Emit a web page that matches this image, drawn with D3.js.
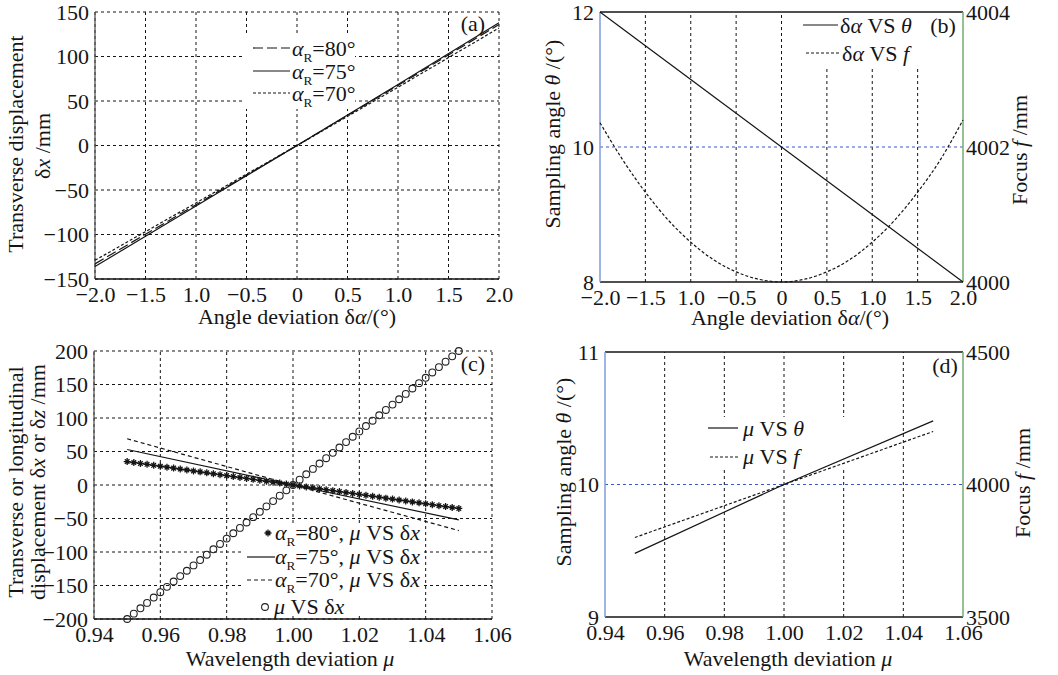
<!DOCTYPE html>
<html>
<head>
<meta charset="utf-8">
<script src="https://cdn.jsdelivr.net/npm/d3@7"></script>
<style>
  body { margin: 0; background: #fff; }
  svg { display: block; }
</style>
</head>
<body>
<div id="chart"></div>
<script>
// ---- data ----
// (a) transverse displacement vs angle deviation
const deltaAlpha = [-2, -1, 0, 1, 2];
const dxR80a = [-133, -66.5, 0, 67.5, 136];
const dxR75a = [-136, -68, 0, 68.5, 138];
const dxR70a = [-129, -64.5, 0, 65.5, 132];

// (b) sampling angle and focus vs angle deviation
const thetaB = [12, 11, 10, 9, 8];
const deltaAlphaF = [-2, -1.75, -1.5, -1.25, -1, -0.75, -0.5, -0.25, 0, 0.25, 0.5, 0.75, 1, 1.25, 1.5, 1.75, 2];
const focusB = [4002.36, 4001.81, 4001.33, 4000.92, 4000.59, 4000.33, 4000.15, 4000.04, 4000.0,
  4000.04, 4000.15, 4000.33, 4000.59, 4000.92, 4001.33, 4001.81, 4002.4];

// (c) displacement vs wavelength deviation
const muC = [0.950, 0.952, 0.954, 0.956, 0.958, 0.960, 0.962, 0.964, 0.966, 0.968, 0.970, 0.972, 0.974,
  0.976, 0.978, 0.980, 0.982, 0.984, 0.986, 0.988, 0.990, 0.992, 0.994, 0.996, 0.998, 1.000, 1.002,
  1.004, 1.006, 1.008, 1.010, 1.012, 1.014, 1.016, 1.018, 1.020, 1.022, 1.024, 1.026, 1.028, 1.030,
  1.032, 1.034, 1.036, 1.038, 1.040, 1.042, 1.044, 1.046, 1.048, 1.050];
const dxR80c = [35, 33.6, 32.2, 30.8, 29.4, 28, 26.6, 25.2, 23.8, 22.4, 21, 19.6, 18.2, 16.8, 15.4, 14,
  12.6, 11.2, 9.8, 8.4, 7, 5.6, 4.2, 2.8, 1.4, 0, -1.4, -2.8, -4.2, -5.6, -7, -8.4, -9.8, -11.2, -12.6,
  -14, -15.4, -16.8, -18.2, -19.6, -21, -22.4, -23.8, -25.2, -26.6, -28, -29.4, -30.8, -32.2, -33.6, -35];
const dzC = [-200, -192, -184, -176, -168, -160, -152, -144, -136, -128, -120, -112, -104, -96, -88, -80,
  -72, -64, -56, -48, -40, -32, -24, -16, -8, 0, 8, 16, 24, 32, 40, 48, 56, 64, 72, 80, 88, 96, 104, 112,
  120, 128, 136, 144, 152, 160, 168, 176, 184, 192, 200];
const muLine = [0.95, 1.0, 1.05];
const dxR75c = [53, 0, -52];
const dxR70c = [69, 0, -68];

// (d) sampling angle and focus vs wavelength deviation
const muD = [0.95, 1.0, 1.05];
const thetaD = [9.48, 10.0, 10.48];
const focusD = [3800, 4000, 4200];

// tick labels
const angleTicks = [-2, -1.5, -1, -0.5, 0, 0.5, 1, 1.5, 2];
const angleLabels = ['−2.0', '−1.5', '1.0', '−0.5', '0', '0.5', '1.0', '1.5', '2.0'];
const dxTicksA = [-150, -100, -50, 0, 50, 100, 150];
const dxLabelsA = ['−150', '−100', '−50', '0', '50', '100', '150'];
const dxTicksC = [-200, -150, -100, -50, 0, 50, 100, 150, 200];
const dxLabelsC = ['−200', '−150', '−100', '−50', '0', '50', '100', '150', '200'];
const muTicks = [0.94, 0.96, 0.98, 1.0, 1.02, 1.04, 1.06];
const muLabels = ['0.94', '0.96', '0.98', '1.00', '1.02', '1.04', '1.06'];

const FONT = "'Liberation Serif', 'Times New Roman', serif";
const FS = 22;
const INK = '#151515';
const BLUE_AXIS = '#7f9ddc';
const GREEN_AXIS = '#72ad72';
const BLUE_GRID = '#3a58c8';

const svg = d3.select('#chart').append('svg')
  .attr('width', 1058).attr('height', 675)
  .style('font-family', FONT);
svg.append('rect').attr('width', 1058).attr('height', 675).attr('fill', '#fff');

// text made of parts: {t, i (italic), sub}
function richText(g, x, y, parts, opts = {}) {
  const fs = opts.fs || FS;
  const t = g.append('text')
    .attr('x', x).attr('y', y)
    .attr('font-size', fs)
    .attr('fill', INK)
    .attr('text-anchor', opts.anchor || 'start')
    .attr('dy', '0.35em');
  if (opts.rotate) {
    t.attr('x', 0).attr('y', 0).attr('transform', `translate(${x},${y}) rotate(-90)`);
  }
  let inSub = false;
  parts.forEach((p) => {
    const ts = t.append('tspan').text(p.t);
    if (p.i) ts.attr('font-style', 'italic');
    if (p.sub) {
      ts.attr('font-size', fs * 0.6).attr('dy', fs * 0.3);
      inSub = true;
    } else if (inSub) {
      ts.attr('dy', -fs * 0.3);
      inSub = false;
    }
  });
  return t;
}

function gridLines(g, x, y, xs, ys, color) {
  g.selectAll(null).data(xs).enter().append('line')
    .attr('x1', (d) => x(d)).attr('x2', (d) => x(d))
    .attr('y1', y.range()[0]).attr('y2', y.range()[1])
    .attr('stroke', INK).attr('stroke-width', 1).attr('stroke-dasharray', '3,3');
  g.selectAll(null).data(ys).enter().append('line')
    .attr('x1', x.range()[0]).attr('x2', x.range()[1])
    .attr('y1', (d) => y(d)).attr('y2', (d) => y(d))
    .attr('stroke', color || INK).attr('stroke-width', 1).attr('stroke-dasharray', '3,3');
}

function bottomAxis(g, x, y0, ticks, labels) {
  g.append('g')
    .attr('transform', `translate(0,${y0})`)
    .call(d3.axisBottom(x).tickValues(ticks).tickFormat((d, i) => labels[i]).tickSize(0).tickPadding(7))
    .call((a) => a.select('.domain').remove())
    .selectAll('text').attr('font-size', FS).attr('font-family', FONT).attr('fill', INK);
}

function leftAxis(g, y, x0, ticks, labels) {
  g.append('g')
    .attr('transform', `translate(${x0},0)`)
    .call(d3.axisLeft(y).tickValues(ticks).tickFormat((d, i) => labels[i]).tickSize(0).tickPadding(6))
    .call((a) => a.select('.domain').remove())
    .selectAll('text').attr('font-size', FS).attr('font-family', FONT).attr('fill', INK);
}

function rightAxis(g, y, x1, ticks) {
  g.append('g')
    .attr('transform', `translate(${x1},0)`)
    .call(d3.axisRight(y).tickValues(ticks).tickFormat(d3.format('d')).tickSize(0).tickPadding(3))
    .call((a) => a.select('.domain').remove())
    .selectAll('text').attr('font-size', FS).attr('font-family', FONT).attr('fill', INK);
}

function seriesLine(g, x, y, xs, ys, dash, curve) {
  const line = d3.line().x((d) => x(d[0])).y((d) => y(d[1])).curve(curve || d3.curveLinear);
  g.append('path')
    .datum(xs.map((v, i) => [v, ys[i]]))
    .attr('d', line)
    .attr('fill', 'none')
    .attr('stroke', INK)
    .attr('stroke-width', 1.2)
    .attr('stroke-dasharray', dash || null);
}

function legendSample(g, x1, x2, y, dash) {
  g.append('line').attr('x1', x1).attr('x2', x2).attr('y1', y).attr('y2', y)
    .attr('stroke', INK).attr('stroke-width', 1.2).attr('stroke-dasharray', dash || null);
}

const STAR = 'M-3.5,0H3.5M0,-3.5V3.5M-2.3,-2.3L2.3,2.3M-2.3,2.3L2.3,-2.3';
const alpha = (deg) => [{ t: 'α', i: true }, { t: 'R', sub: true }, { t: `=${deg}°` }];
const muVSdx = [{ t: ', ' }, { t: 'μ', i: true }, { t: ' VS δ' }, { t: 'x', i: true }];

// ================= (a) =================
{
  const g = svg.append('g');
  const x = d3.scaleLinear().domain([-2, 2]).range([95, 499]);
  const y = d3.scaleLinear().domain([-150, 150]).range([279, 12]);
  gridLines(g, x, y, angleTicks, dxTicksA);
  g.append('rect').attr('x', 243).attr('y', 33).attr('width', 112).attr('height', 76).attr('fill', '#fff');
  g.append('line').attr('x1', 95).attr('x2', 95).attr('y1', 12).attr('y2', 279).attr('stroke', '#555').attr('stroke-width', 1.3);
  g.append('line').attr('x1', 95).attr('x2', 499).attr('y1', 279).attr('y2', 279).attr('stroke', INK).attr('stroke-width', 1.3);
  seriesLine(g, x, y, deltaAlpha, dxR70a, '3,2');
  seriesLine(g, x, y, deltaAlpha, dxR80a, '10,4');
  seriesLine(g, x, y, deltaAlpha, dxR75a);
  bottomAxis(g, x, 279, angleTicks, angleLabels);
  leftAxis(g, y, 95, dxTicksA, dxLabelsA);

  legendSample(g, 253, 290, 48, '10,4');
  legendSample(g, 253, 290, 71);
  legendSample(g, 253, 290, 93, '3,2');
  richText(g, 292, 48, alpha(80));
  richText(g, 292, 71, alpha(75));
  richText(g, 292, 93, alpha(70));
  richText(g, 473, 23, [{ t: '(a)' }], { anchor: 'middle' });

  richText(g, 297, 316, [{ t: 'Angle deviation δ' }, { t: 'α', i: true }, { t: '/(°)' }], { anchor: 'middle' });
  richText(g, 15, 144, [{ t: 'Transverse displacement' }], { anchor: 'middle', rotate: true });
  richText(g, 42, 146, [{ t: 'δ' }, { t: 'x', i: true }, { t: ' /mm' }], { anchor: 'middle', rotate: true });
}

// ================= (b) =================
{
  const g = svg.append('g');
  const x = d3.scaleLinear().domain([-2, 2]).range([600, 963]);
  const y = d3.scaleLinear().domain([8, 12]).range([282, 12]);
  const yf = d3.scaleLinear().domain([4000, 4004]).range([282, 12]);
  gridLines(g, x, y, angleTicks.slice(1, -1), [10], BLUE_GRID);
  g.append('rect').attr('x', 795).attr('y', 13).attr('width', 166).attr('height', 55).attr('fill', '#fff');
  g.append('line').attr('x1', 600).attr('x2', 963).attr('y1', 12).attr('y2', 12).attr('stroke', INK).attr('stroke-width', 1.3);
  g.append('line').attr('x1', 600).attr('x2', 963).attr('y1', 282).attr('y2', 282).attr('stroke', INK).attr('stroke-width', 1.3);
  g.append('line').attr('x1', 600).attr('x2', 600).attr('y1', 12).attr('y2', 282).attr('stroke', BLUE_AXIS).attr('stroke-width', 1.5);
  g.append('line').attr('x1', 963).attr('x2', 963).attr('y1', 12).attr('y2', 282).attr('stroke', GREEN_AXIS).attr('stroke-width', 1.5);
  seriesLine(g, x, y, deltaAlpha, thetaB);
  seriesLine(g, x, yf, deltaAlphaF, focusB, '3,2', d3.curveMonotoneX);
  bottomAxis(g, x, 282, angleTicks, angleLabels);
  leftAxis(g, y, 600, [8, 10, 12], ['8', '10', '12']);
  rightAxis(g, yf, 963, [4000, 4002, 4004]);

  legendSample(g, 803, 838, 25);
  legendSample(g, 806, 840, 53, '3,2');
  richText(g, 840, 25, [{ t: 'δ' }, { t: 'α', i: true }, { t: ' VS ' }, { t: 'θ', i: true }]);
  richText(g, 842, 53, [{ t: 'δ' }, { t: 'α', i: true }, { t: ' VS ' }, { t: 'f', i: true }]);
  richText(g, 943, 25, [{ t: '(b)' }], { anchor: 'middle' });

  richText(g, 790, 317, [{ t: 'Angle deviation δ' }, { t: 'α', i: true }, { t: '/(°)' }], { anchor: 'middle' });
  richText(g, 552, 134, [{ t: 'Sampling angle ' }, { t: 'θ', i: true }, { t: ' /(°)' }], { anchor: 'middle', rotate: true });
  richText(g, 1019, 150, [{ t: 'Focus ' }, { t: 'f', i: true }, { t: ' /mm' }], { anchor: 'middle', rotate: true });
}

// ================= (c) =================
{
  const g = svg.append('g');
  const x = d3.scaleLinear().domain([0.94, 1.06]).range([94, 492]);
  const y = d3.scaleLinear().domain([-200, 200]).range([619, 351]);
  gridLines(g, x, y, muTicks, dxTicksC);
  g.append('rect').attr('x', 243).attr('y', 526).attr('width', 180).attr('height', 88).attr('fill', '#fff');
  g.append('line').attr('x1', 94).attr('x2', 94).attr('y1', 351).attr('y2', 619).attr('stroke', '#555').attr('stroke-width', 1.3);
  g.append('line').attr('x1', 94).attr('x2', 492).attr('y1', 619).attr('y2', 619).attr('stroke', INK).attr('stroke-width', 1.3);

  seriesLine(g, x, y, muLine, dxR70c, '4,3');
  seriesLine(g, x, y, muLine, dxR75c);
  seriesLine(g, x, y, muC, dxR80c);
  g.selectAll('.star').data(muC).enter().append('path')
    .attr('class', 'star')
    .attr('transform', (d, i) => `translate(${x(d)},${y(dxR80c[i])})`)
    .attr('d', STAR)
    .attr('stroke', INK).attr('stroke-width', 1.3);
  g.selectAll('.ring').data(muC).enter().append('circle')
    .attr('class', 'ring')
    .attr('cx', (d) => x(d))
    .attr('cy', (d, i) => y(dzC[i]))
    .attr('r', 3.4)
    .attr('fill', 'none').attr('stroke', '#222').attr('stroke-width', 1.1);

  bottomAxis(g, x, 619, muTicks, muLabels);
  leftAxis(g, y, 94, dxTicksC, dxLabelsC);

  g.append('path').attr('transform', 'translate(268,533)').attr('d', STAR)
    .attr('stroke', INK).attr('stroke-width', 1.3);
  legendSample(g, 247, 275, 557);
  legendSample(g, 247, 275, 580, '4,3');
  g.append('circle').attr('cx', 265).attr('cy', 607).attr('r', 3.4).attr('fill', 'none').attr('stroke', '#222').attr('stroke-width', 1.1);
  richText(g, 275, 532, alpha(80).concat(muVSdx));
  richText(g, 275, 556, alpha(75).concat(muVSdx));
  richText(g, 275, 579, alpha(70).concat(muVSdx));
  richText(g, 274, 606, [{ t: 'μ', i: true }, { t: ' VS δ' }, { t: 'x', i: true }]);
  richText(g, 473, 363, [{ t: '(c)' }], { anchor: 'middle' });

  richText(g, 290, 658, [{ t: 'Wavelength deviation ' }, { t: 'μ', i: true }], { anchor: 'middle' });
  richText(g, 15, 482, [{ t: 'Transverse or longitudinal' }], { anchor: 'middle', rotate: true });
  richText(g, 37, 482, [{ t: 'displacement δ' }, { t: 'x', i: true }, { t: ' or δ' }, { t: 'z', i: true }, { t: ' /mm' }], { anchor: 'middle', rotate: true });
}

// ================= (d) =================
{
  const g = svg.append('g');
  const x = d3.scaleLinear().domain([0.94, 1.06]).range([605, 963]);
  const y = d3.scaleLinear().domain([9, 11]).range([617, 352]);
  const yf = d3.scaleLinear().domain([3500, 4500]).range([617, 352]);
  gridLines(g, x, y, muTicks.slice(1, -1), [10], BLUE_GRID);
  g.append('rect').attr('x', 700).attr('y', 417).attr('width', 150).attr('height', 53).attr('fill', '#fff');
  g.append('line').attr('x1', 605).attr('x2', 963).attr('y1', 352).attr('y2', 352).attr('stroke', INK).attr('stroke-width', 1.3);
  g.append('line').attr('x1', 605).attr('x2', 963).attr('y1', 617).attr('y2', 617).attr('stroke', INK).attr('stroke-width', 1.3);
  g.append('line').attr('x1', 605).attr('x2', 605).attr('y1', 352).attr('y2', 617).attr('stroke', BLUE_AXIS).attr('stroke-width', 1.5);
  g.append('line').attr('x1', 963).attr('x2', 963).attr('y1', 352).attr('y2', 617).attr('stroke', GREEN_AXIS).attr('stroke-width', 1.5);
  seriesLine(g, x, y, muD, thetaD);
  seriesLine(g, x, yf, muD, focusD, '3,2');
  bottomAxis(g, x, 617, muTicks, muLabels);
  leftAxis(g, y, 605, [9, 10, 11], ['9', '10', '11']);
  rightAxis(g, yf, 963, [3500, 4000, 4500]);

  legendSample(g, 708, 738, 428);
  legendSample(g, 710, 738, 457, '3,2');
  richText(g, 743, 428, [{ t: 'μ', i: true }, { t: ' VS ' }, { t: 'θ', i: true }]);
  richText(g, 743, 456, [{ t: 'μ', i: true }, { t: ' VS ' }, { t: 'f', i: true }]);
  richText(g, 945, 365, [{ t: '(d)' }], { anchor: 'middle' });

  richText(g, 788, 658, [{ t: 'Wavelength deviation ' }, { t: 'μ', i: true }], { anchor: 'middle' });
  richText(g, 563, 472, [{ t: 'Sampling angle ' }, { t: 'θ', i: true }, { t: ' /(°)' }], { anchor: 'middle', rotate: true });
  richText(g, 1022, 483, [{ t: 'Focus ' }, { t: 'f', i: true }, { t: ' /mm' }], { anchor: 'middle', rotate: true });
}
</script>
</body>
</html>
